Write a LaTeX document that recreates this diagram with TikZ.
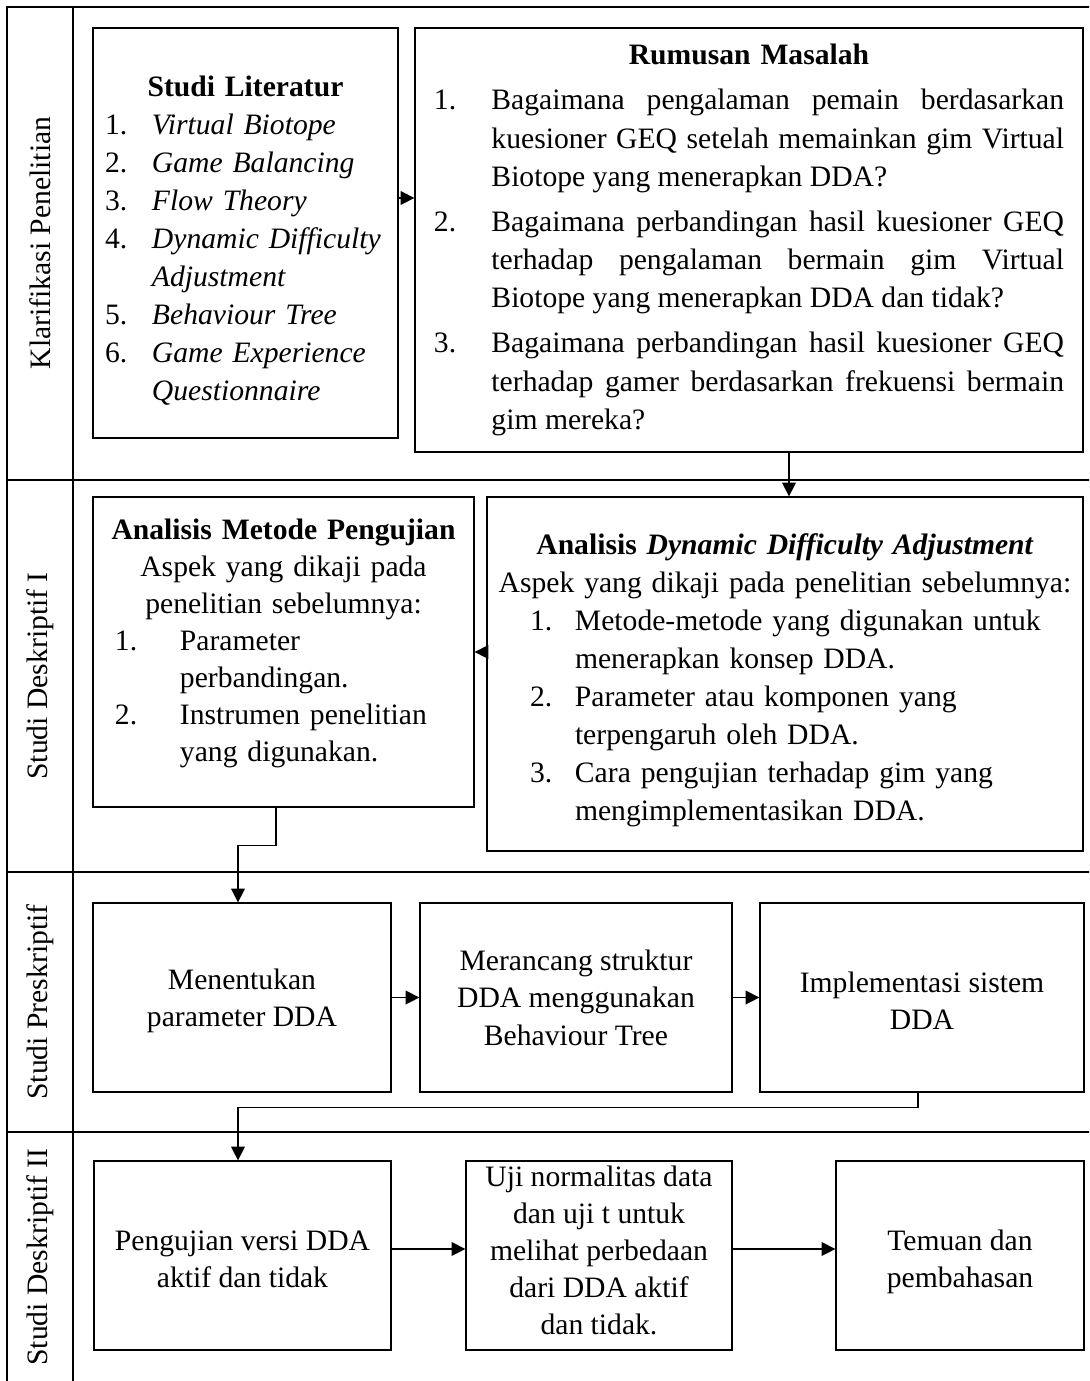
\documentclass[tikz,border=0pt]{standalone}
\usepackage{fontspec}
\setmainfont{Liberation Serif}
\usetikzlibrary{arrows.meta, calc}
\setlength{\parindent}{0pt}
\newlength{\numw}
\newcommand{\diagfont}[1]{\fontsize{11.85}{#1}\selectfont}
\newcommand{\numitem}[2]{\par\noindent\hangindent=\numw\hangafter=1\makebox[\numw][l]{#1}#2\par}

\begin{document}
\begin{tikzpicture}[
        x=0.4pt, y=-0.4pt,
        box/.style={draw, line width=0.5pt, inner sep=0pt, align=center,
                    font=\diagfont{15pt}},
        listbox/.style={draw, line width=0.5pt, inner sep=0pt,
                    font=\diagfont{15.2pt}},
        lane/.style={rotate=90, font=\diagfont{15pt}},
        frame/.style={line width=0.8pt},
        arrow/.style={-{Triangle[length=5.5pt, width=5.5pt]}, line width=0.5pt}
      ]
        \useasboundingbox (0,0) rectangle (1089,1381);
        \clip (0,0) rectangle (1089,1381);

        % frame and rows
        \draw[frame] (7,7) rectangle (1093,1385);
        \draw[frame] (73,7) -- (73,1385);
        \foreach \y in {480,872,1132}
          \draw[frame] (7,\y) -- (1093,\y);

        \node[lane] (klar) at (40,243) {Klarifikasi Penelitian};
        \node[lane] (desk1) at (40,676) {Studi Deskriptif I};
        \node[lane] (presk) at (40,1002) {Studi Preskriptif};
        \node[lane] (desk2) at (40,1257) {Studi Deskriptif II};

        % row 1
        \node[listbox, minimum width=122pt, minimum height=164pt, text width=118pt]
          (lit) at (245.5,233) {%
          {\centering\rule{0pt}{14pt}\textbf{Studi Literatur}\par}
          \raggedright\leftskip=2.8pt\setlength{\numw}{18.8pt}%
          \numitem{1.}{\textit{Virtual Biotope}}
          \numitem{2.}{\textit{Game Balancing}}
          \numitem{3.}{\textit{Flow Theory}}
          \numitem{4.}{\textit{Dynamic Difficulty\newline Adjustment}}
          \numitem{5.}{\textit{Behaviour Tree}}
          \numitem{6.}{\textit{Game Experience\newline Questionnaire}}};
        \node[listbox, font=\diagfont{15.3pt}, minimum width=267.2pt, minimum height=169.6pt, text width=252pt]
          (rumusan) at (749,240) {%
          \parskip=2.7pt
          {\centering\textbf{Rumusan Masalah}\par}
          \rightskip=0pt\parfillskip=0pt plus 1fil
          \spaceskip=0.25em plus 0.4em minus 0.12em
          \setlength{\numw}{23pt}%
          \numitem{1.}{Bagaimana pengalaman pemain berdasarkan\linebreak kuesioner GEQ setelah memainkan gim Virtual\linebreak Biotope yang menerapkan DDA?}
          \numitem{2.}{Bagaimana perbandingan hasil kuesioner GEQ\linebreak terhadap pengalaman bermain gim Virtual\linebreak Biotope yang menerapkan DDA dan tidak?}
          \numitem{3.}{Bagaimana perbandingan hasil kuesioner GEQ\linebreak terhadap gamer berdasarkan frekuensi bermain\linebreak gim mereka?}};

        % row 2
        \node[listbox, font=\diagfont{14.8pt}, minimum width=152.4pt, minimum height=124pt, text width=150pt]
          (metode) at (283.5,652) {%
          {\centering\textbf{Analisis Metode Pengujian}\\Aspek yang dikaji pada\\penelitian sebelumnya:\par}
          \raggedright\leftskip=7.6pt\setlength{\numw}{26pt}%
          \numitem{1.}{Parameter\newline perbandingan.}
          \numitem{2.}{Instrumen penelitian\newline yang digunakan.\rule[-9.5pt]{0pt}{0pt}}};
        \node[listbox, minimum width=238.4pt, minimum height=141.6pt, text width=234pt]
          (dda) at (785,674) {%
          {\centering\rule{0pt}{13pt}\textbf{Analisis \textit{Dynamic Difficulty Adjustment}}\\Aspek yang dikaji pada penelitian sebelumnya:\par}
          \raggedright\leftskip=15pt\setlength{\numw}{18pt}%
          \numitem{1.}{Metode-metode yang digunakan untuk\newline menerapkan konsep DDA.}
          \numitem{2.}{Parameter atau komponen yang\newline terpengaruh oleh DDA.}
          \numitem{3.}{Cara pengujian terhadap gim yang\newline mengimplementasikan DDA.}};

        % row 3
        \node[box, minimum width=119.2pt, minimum height=75.6pt] (param) at (242,997.5)
          {\rule{0pt}{11pt}Menentukan\\parameter DDA};
        \node[box, minimum width=124.8pt, minimum height=75.6pt] (rancang) at (576,997.5)
          {Merancang struktur\\DDA menggunakan\\Behaviour Tree};
        \node[box, minimum width=129.6pt, minimum height=75.6pt] (impl) at (922,997.5)
          {\rule{0pt}{11pt}Implementasi sistem\\DDA};

        % row 4
        \node[box, font=\diagfont{14.8pt}, minimum width=118.8pt, minimum height=75.6pt] (uji) at (242.5,1255.5)
          {\rule{0pt}{11pt}Pengujian versi DDA\\aktif dan tidak};
        \node[box, font=\diagfont{14.8pt}, minimum width=106.4pt, minimum height=75.6pt] (normal) at (599,1255.5)
          {Uji normalitas data\\dan uji t untuk\\melihat perbedaan\\dari DDA aktif\\dan tidak.\rule[-4.5pt]{0pt}{0pt}};
        \node[box, font=\diagfont{14.8pt}, minimum width=99.2pt, minimum height=75.6pt] (temuan) at (960,1255.5)
          {\rule{0pt}{13pt}Temuan dan\\pembahasan};

        % connectors
        \draw[arrow] ($(lit.east)+(0,-35)$) -- ($(rumusan.west)+(0,-42)$);
        \draw[arrow] ($(rumusan.south)+(40,0)$) -- ($(dda.north)+(4,0)$);
        \draw[arrow] (dda.west |- metode.east) -- (metode.east);
        \draw[arrow] ($(metode.south)+(-7.5,0)$) -- ++(0,38) -| ($(param.north)+(-4,0)$);
        \draw[arrow] (param.east) -- (rancang.west);
        \draw[arrow] (rancang.east) -- (impl.west);
        \draw[arrow] ($(impl.south)+(-4,0)$) -- ++(0,15) -| ($(uji.north)+(-4.5,0)$);
        \draw[arrow] ($(uji.east)+(0,-6.5)$) -- ($(normal.west)+(0,-6.5)$);
        \draw[arrow] ($(normal.east)+(0,-6.5)$) -- ($(temuan.west)+(0,-6.5)$);
      \end{tikzpicture}
\end{document}
